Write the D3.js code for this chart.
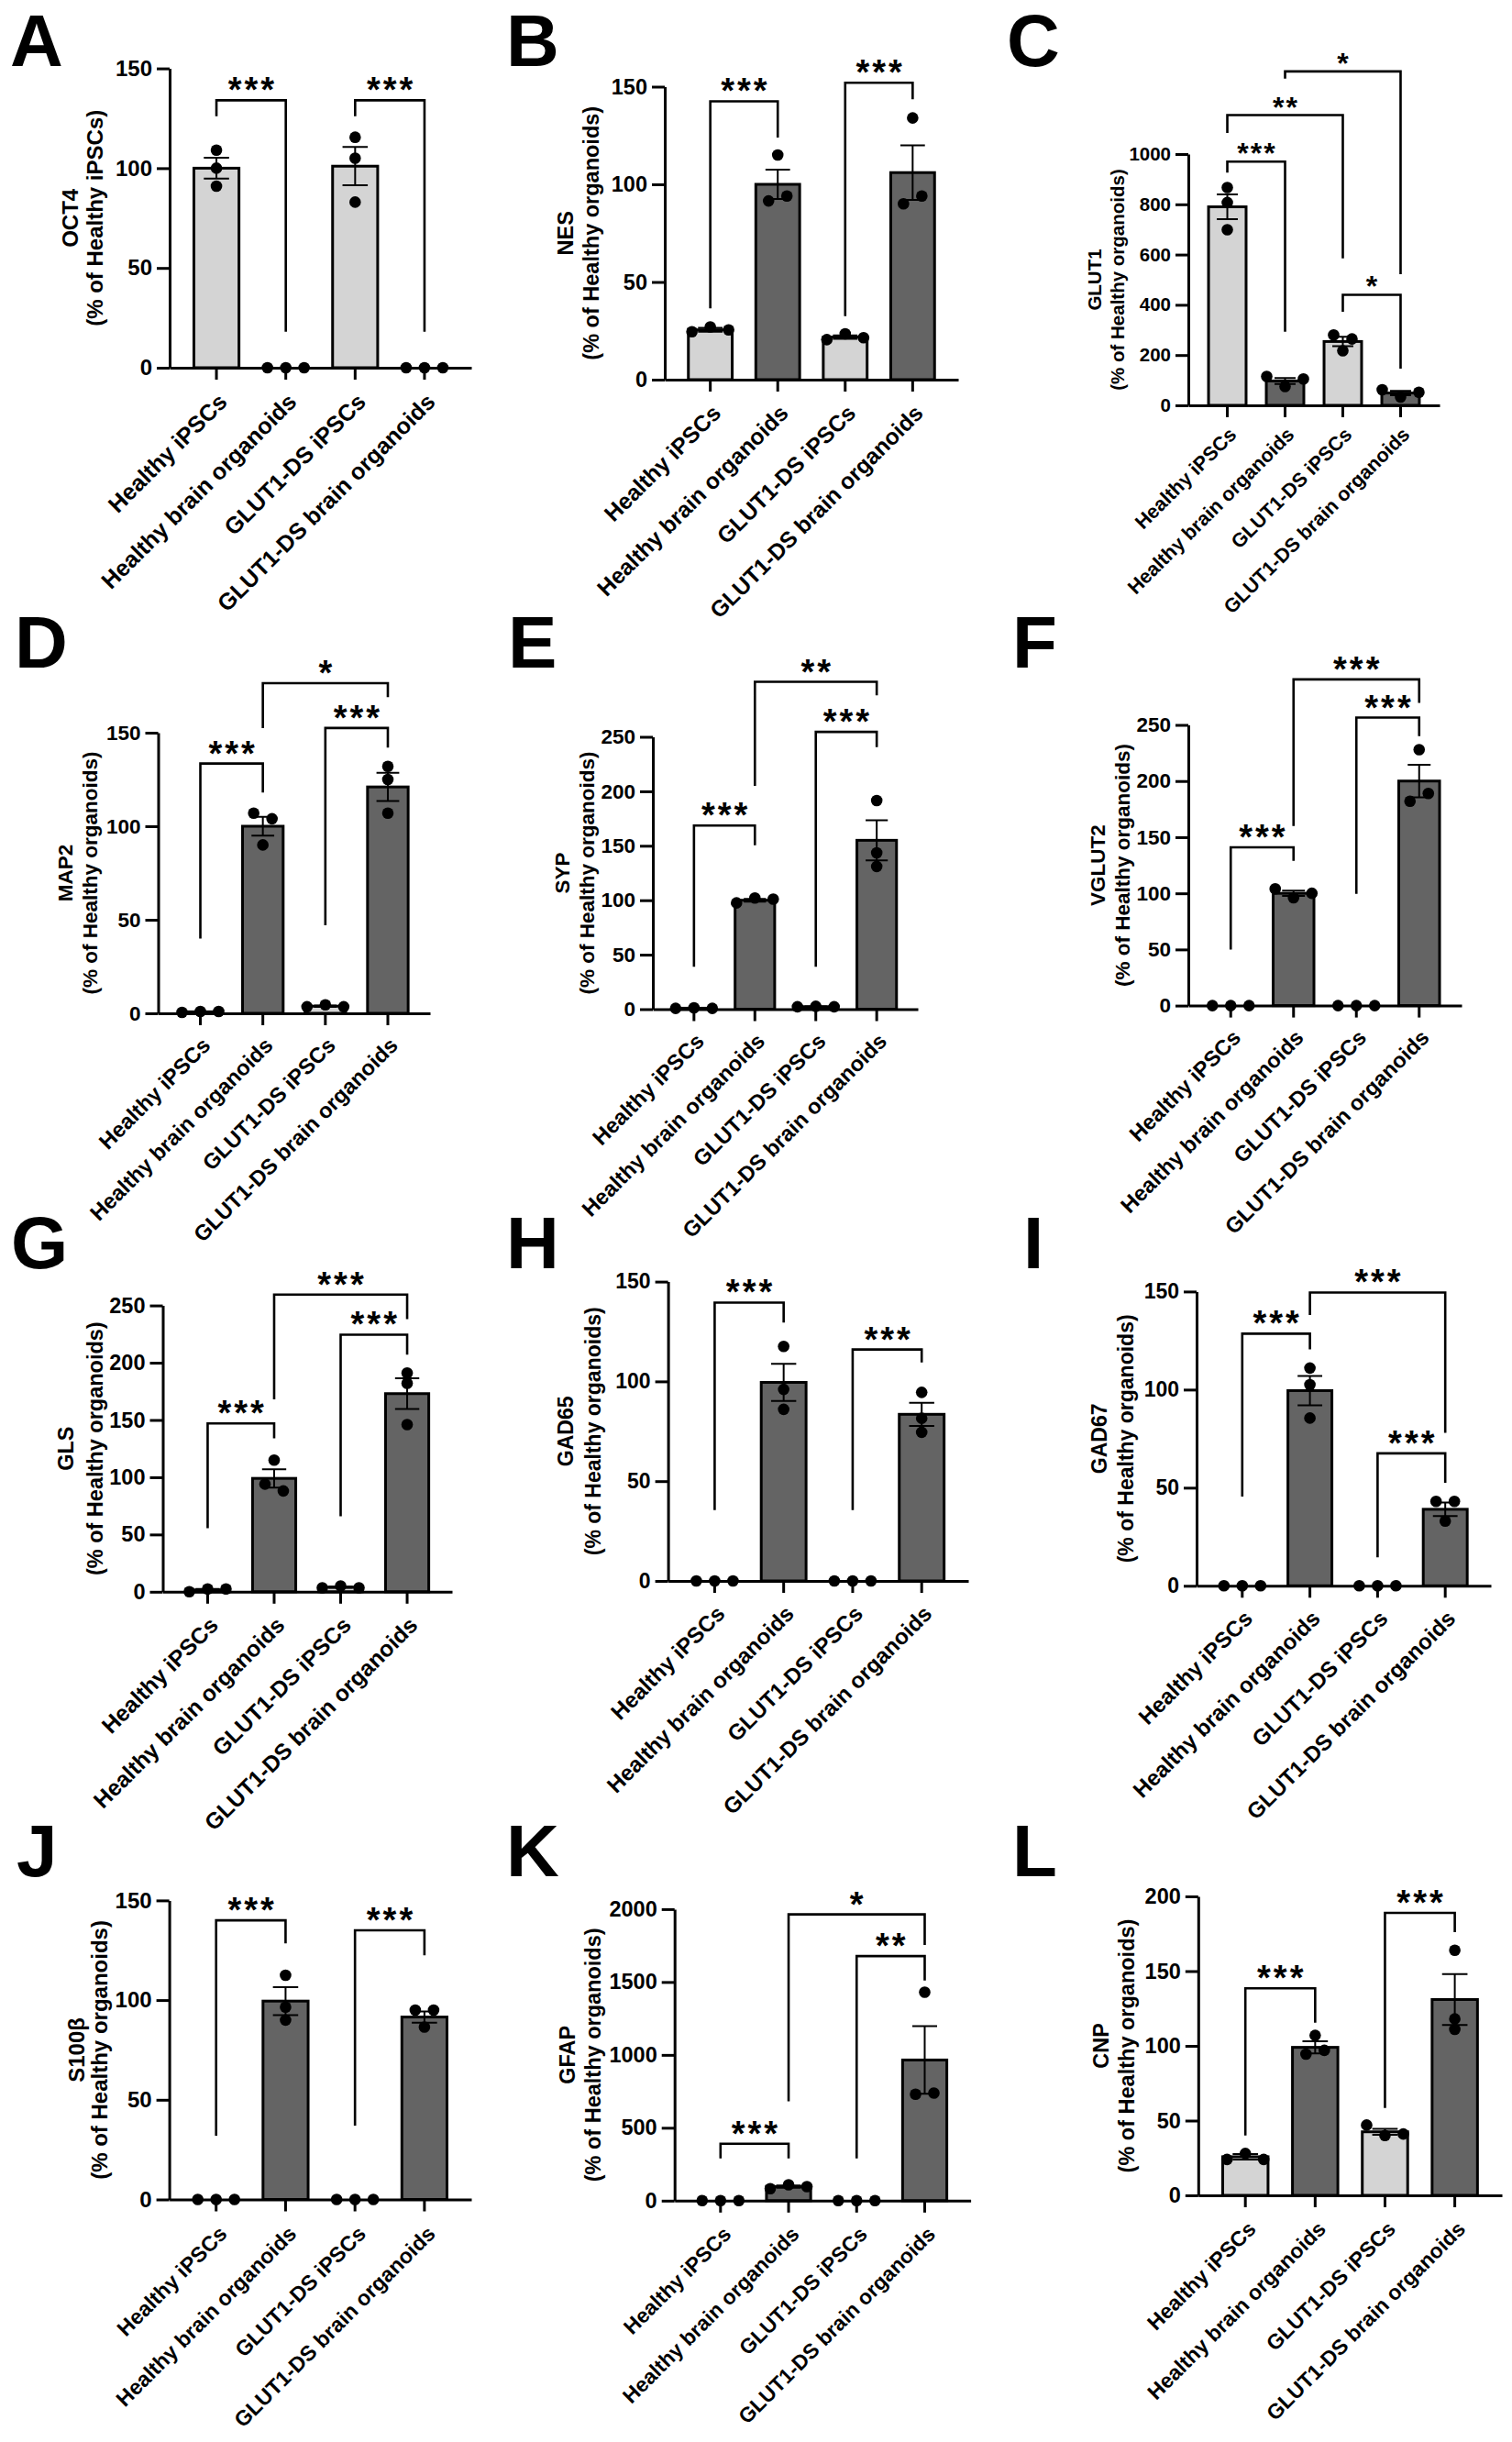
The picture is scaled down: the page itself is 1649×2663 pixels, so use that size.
<!DOCTYPE html>
<html>
<head>
<meta charset="utf-8">
<script src="https://cdn.jsdelivr.net/npm/d3@7"></script>
<style>
  body { margin: 0; background: #fff; }
  text { font-family: "Liberation Sans", Arial, sans-serif; font-weight: bold; fill: #000; }
</style>
</head>
<body>
<div id="fig"></div>
<script>
// groups on every x axis
const groups = ["Healthy iPSCs", "Healthy brain organoids", "GLUT1-DS iPSCs", "GLUT1-DS brain organoids"];

// values: mean, SEM, the three replicates, and
// significance brackets [from, to, level, left leg end, right leg end, label]
const oct4Mean = [100, 0, 101, 0];
const oct4Sem = [5.2, 0, 9.6, 0];
const oct4Points = [[109, 100, 91], [0, 0, 0], [115.5, 105, 83], [0, 0, 0]];
const oct4Sig = [[0, 1, 134, 126, 18, "***"], [2, 3, 134, 126, 18, "***"]];

const nesMean = [25.5, 100, 21.8, 106];
const nesSem = [1, 7.5, 0.9, 14];
const nesPoints = [[24.5, 27, 25.5], [115, 91.5, 94], [20.5, 23.5, 21.5], [134, 90, 94]];
const nesSig = [[0, 1, 142.5, 36.5, 124, "***"], [2, 3, 152, 32.5, 143.5, "***"]];

const glut1Mean = [790, 97, 254, 49];
const glut1Sem = [49, 12, 19, 8.5];
const glut1Points = [[867, 807, 699], [115, 75, 105], [280, 217, 264], [62, 33, 52]];
const glut1Sig = [[0, 1, 970, 926, 293, "***"], [0, 2, 1155, 1084, 585, "**"], [1, 3, 1329, 1300, 522, "*"], [2, 3, 440, 372, 146, "*"]];

const map2Mean = [0.8, 100, 3.8, 121];
const map2Sem = [0.2, 5, 0.4, 7.5];
const map2Points = [[0.5, 1, 1], [107, 104, 90], [3.5, 4.5, 3.5], [132, 125, 107]];
const map2Sig = [[0, 1, 133.5, 40, 118, "***"], [2, 3, 152.5, 47, 142, "***"], [1, 3, 176.5, 152.5, 169, "*"]];

const sypMean = [0.9, 100, 2.3, 155];
const sypSem = [0.2, 1.3, 0.2, 18.5];
const sypPoints = [[0.7, 1.2, 0.7], [97.5, 102, 101], [2.2, 2.6, 2.2], [191.5, 143.5, 131]];
const sypSig = [[0, 1, 168.5, 39, 150.5, "***"], [2, 3, 254.5, 39, 240.5, "***"], [1, 3, 300.5, 205, 288, "**"]];

const vglut2Mean = [0, 100, 0, 200];
const vglut2Sem = [0, 2.4, 0, 14.5];
const vglut2Points = [[0, 0, 0], [104, 96, 100], [0, 0, 0], [228, 182, 189]];
const vglut2Sig = [[0, 1, 141, 50, 129, "***"], [2, 3, 256.5, 99.5, 240, "***"], [1, 3, 290.5, 160, 269.5, "***"]];

const glsMean = [1.6, 99, 4, 173];
const glsSem = [0.8, 8, 0.5, 13.5];
const glsPoints = [[0, 2.4, 2.4], [115, 94, 88], [3.5, 5, 3.5], [191, 182, 146]];
const glsSig = [[0, 1, 147, 55.5, 134, "***"], [2, 3, 224.5, 66, 207, "***"], [1, 3, 259.5, 168, 238, "***"]];

const gad65Mean = [0, 99.5, 0, 83.5];
const gad65Sem = [0, 9.3, 0, 5.8];
const gad65Points = [[0, 0, 0], [117.5, 96, 86], [0, 0, 0], [94.5, 81.5, 74.5]];
const gad65Sig = [[0, 1, 139.5, 35.5, 129.5, "***"], [2, 3, 116, 35.5, 109.5, "***"]];

const gad67Mean = [0, 99.5, 0, 39];
const gad67Sem = [0, 7.5, 0, 3.5];
const gad67Points = [[0, 0, 0], [111, 102.5, 85.5], [0, 0, 0], [43, 33, 43]];
const gad67Sig = [[0, 1, 128.5, 45.5, 120.5, "***"], [2, 3, 67.5, 14.5, 52.5, "***"], [1, 3, 149.5, 138, 78, "***"]];

const s100bMean = [0, 99.5, 0, 91.5];
const s100bSem = [0, 7, 0, 2.8];
const s100bPoints = [[0, 0, 0], [112.5, 96.5, 90], [0, 0, 0], [95, 86.5, 95]];
const s100bSig = [[0, 1, 140, 32, 128.5, "***"], [2, 3, 135, 37, 122.5, "***"]];

const gfapMean = [0, 96, 0, 965];
const gfapSem = [0, 8, 0, 232];
const gfapPoints = [[0, 0, 0], [82, 109, 96], [0, 0, 0], [1430, 730, 738]];
const gfapSig = [[0, 1, 390, 289, 289, "***"], [2, 3, 1678, 289, 1510, "**"], [1, 3, 1964, 682, 1754, "*"]];

const cnpMean = [25.8, 99, 42.5, 131];
const cnpSem = [1.8, 4, 2, 17];
const cnpPoints = [[24, 28, 24], [107, 94.5, 97], [47, 40, 41], [164, 118, 111]];
const cnpSig = [[0, 1, 138.5, 40, 115.5, "***"], [2, 3, 189, 58.5, 176, "***"]];

const organoidUnit = "(% of Healthy organoids)";

const panels = [
  { letter: "A", gene: "OCT4", unit: "(% of Healthy iPSCs)", max: 150, step: 50, mean: oct4Mean, sem: oct4Sem, pts: oct4Points, sig: oct4Sig },
  { letter: "B", gene: "NES", unit: organoidUnit, max: 150, step: 50, mean: nesMean, sem: nesSem, pts: nesPoints, sig: nesSig },
  { letter: "C", gene: "GLUT1", unit: organoidUnit, max: 1000, step: 200, mean: glut1Mean, sem: glut1Sem, pts: glut1Points, sig: glut1Sig },
  { letter: "D", gene: "MAP2", unit: organoidUnit, max: 150, step: 50, mean: map2Mean, sem: map2Sem, pts: map2Points, sig: map2Sig },
  { letter: "E", gene: "SYP", unit: organoidUnit, max: 250, step: 50, mean: sypMean, sem: sypSem, pts: sypPoints, sig: sypSig },
  { letter: "F", gene: "VGLUT2", unit: organoidUnit, max: 250, step: 50, mean: vglut2Mean, sem: vglut2Sem, pts: vglut2Points, sig: vglut2Sig },
  { letter: "G", gene: "GLS", unit: organoidUnit, max: 250, step: 50, mean: glsMean, sem: glsSem, pts: glsPoints, sig: glsSig },
  { letter: "H", gene: "GAD65", unit: organoidUnit, max: 150, step: 50, mean: gad65Mean, sem: gad65Sem, pts: gad65Points, sig: gad65Sig },
  { letter: "I", gene: "GAD67", unit: organoidUnit, max: 150, step: 50, mean: gad67Mean, sem: gad67Sem, pts: gad67Points, sig: gad67Sig },
  { letter: "J", gene: "S100\u03B2", unit: organoidUnit, max: 150, step: 50, mean: s100bMean, sem: s100bSem, pts: s100bPoints, sig: s100bSig },
  { letter: "K", gene: "GFAP", unit: organoidUnit, max: 2000, step: 500, mean: gfapMean, sem: gfapSem, pts: gfapPoints, sig: gfapSig },
  { letter: "L", gene: "CNP", unit: organoidUnit, max: 200, step: 50, mean: cnpMean, sem: cnpSem, pts: cnpPoints, sig: cnpSig }
];

// where each panel sits on the page (page pixels); lf scales the x labels
const frames = {
  A: { xL: 185, xR: 514, y0: 401, yT: 74.6, lx: 11, lb: 72, fs: 24, lf: 1.05, t1: 108, t2: 81 },
  B: { xL: 725, xR: 1045, y0: 414, yT: 94.5, lx: 552, lb: 72, fs: 23.5, lf: 1.05, t1: 108, t2: 80 },
  C: { xL: 1296, xR: 1570, y0: 442, yT: 168, lx: 1098, lb: 72, fs: 20.5, lf: 1.05, t1: 102, t2: 77 },
  D: { xL: 172.5, xR: 469, y0: 1105, yT: 799, lx: 16, lb: 728, fs: 22.5, lf: 1.05, t1: 101, t2: 74 },
  E: { xL: 712, xR: 1001, y0: 1100.5, yT: 803.5, lx: 554, lb: 728, fs: 22.5, lf: 1.05, t1: 99, t2: 72 },
  F: { xL: 1296, xR: 1594, y0: 1096.6, yT: 790.5, lx: 1104, lb: 728, fs: 22.5, lf: 1.05, t1: 99, t2: 72 },
  G: { xL: 177.5, xR: 493, y0: 1735.8, yT: 1423.6, lx: 12, lb: 1383, fs: 23.5, lf: 1.05, t1: 106, t2: 74 },
  H: { xL: 728.6, xR: 1056, y0: 1724, yT: 1397.6, lx: 552, lb: 1383, fs: 23, lf: 1.05, t1: 112, t2: 82 },
  I: { xL: 1305, xR: 1626, y0: 1729.3, yT: 1408.4, lx: 1116, lb: 1383, fs: 23, lf: 1.05, t1: 106, t2: 77 },
  J: { xL: 184.6, xR: 514, y0: 2398.5, yT: 2072.4, lx: 18, lb: 2046, fs: 24, lf: 0.97, t1: 101, t2: 76 },
  K: { xL: 735.7, xR: 1058.6, y0: 2399.8, yT: 2081.9, lx: 552, lb: 2046, fs: 23.5, lf: 0.97, t1: 117, t2: 89 },
  L: { xL: 1306.8, xR: 1638, y0: 2394, yT: 2068, lx: 1104, lb: 2046, fs: 23.5, lf: 0.98, t1: 106, t2: 78 }
};

const width = 1649;
const height = 2663;
const lightFill = "#d4d4d4";
const darkFill = "#646464";

const svg = d3.select("#fig").append("svg")
  .attr("width", width)
  .attr("height", height);

svg.append("rect").attr("width", width).attr("height", height).attr("fill", "#fff");

const root = svg.append("g");

panels.forEach(p => drawPanel(p, frames[p.letter]));

// Prism style scatter: points that would overlap are spread in a row
function dotOffsets(vals, y, spacing) {
  const idx = vals.map((v, i) => i).sort((a, b) => vals[b] - vals[a]);
  const clusters = [];
  let cur = [idx[0]];
  for (let k = 1; k < idx.length; k++) {
    if (Math.abs(y(vals[idx[k - 1]]) - y(vals[idx[k]])) < 11) cur.push(idx[k]);
    else { clusters.push(cur); cur = [idx[k]]; }
  }
  clusters.push(cur);
  const off = vals.map(() => 0);
  clusters.forEach(c => {
    c.sort((a, b) => a - b);
    c.forEach((i, k) => { off[i] = (k - (c.length - 1) / 2) * spacing; });
  });
  return off;
}

function drawPanel(p, f) {
  const g = root.append("g").attr("class", "panel");
  const fs = f.fs;
  const labelFs = fs * f.lf;

  const x = d3.scaleBand()
    .domain(groups)
    .range([f.xL, f.xR])
    .padding(0.35);

  const y = d3.scaleLinear()
    .domain([0, p.max])
    .range([f.y0, f.yT]);

  // panel letter
  g.append("text")
    .attr("x", f.lx)
    .attr("y", f.lb)
    .style("font-size", "80px")
    .text(p.letter);

  // y axis
  const yAxis = g.append("g")
    .attr("transform", `translate(${f.xL},0)`)
    .call(d3.axisLeft(y)
      .tickValues(d3.range(0, p.max + 1, p.step))
      .tickSizeInner(14)
      .tickSizeOuter(0)
      .tickPadding(5)
      .tickFormat(d3.format("d")));
  yAxis.select(".domain").attr("stroke", "#000").attr("stroke-width", 3);
  yAxis.selectAll(".tick line").attr("stroke", "#000").attr("stroke-width", 3);
  yAxis.selectAll(".tick text")
    .attr("fill", "#000")
    .style("font-size", fs + "px")
    .style("font-family", '"Liberation Sans", Arial, sans-serif')
    .style("font-weight", "bold");

  // y title
  const cy = (f.y0 + f.yT) / 2;
  g.append("text")
    .attr("transform", `translate(${f.xL - f.t1},${cy}) rotate(-90)`)
    .attr("text-anchor", "middle")
    .attr("dy", "0.35em")
    .style("font-size", fs + "px")
    .text(p.gene);
  g.append("text")
    .attr("transform", `translate(${f.xL - f.t2},${cy}) rotate(-90)`)
    .attr("text-anchor", "middle")
    .attr("dy", "0.35em")
    .style("font-size", fs + "px")
    .text(p.unit);

  // bars
  g.selectAll(".bar")
    .data(groups)
    .join("rect")
    .attr("class", "bar")
    .attr("x", d => x(d))
    .attr("width", x.bandwidth())
    .attr("y", (d, i) => y(p.mean[i]))
    .attr("height", (d, i) => f.y0 - y(p.mean[i]))
    .attr("fill", (d, i) => i % 2 === 0 ? lightFill : darkFill)
    .attr("stroke", "#000")
    .attr("stroke-width", 3);

  // x axis
  const xAxis = g.append("g")
    .attr("transform", `translate(0,${f.y0})`)
    .call(d3.axisBottom(x).tickSizeInner(13).tickSizeOuter(0));
  xAxis.select(".domain").attr("stroke", "#000").attr("stroke-width", 3);
  xAxis.selectAll(".tick line").attr("stroke", "#000").attr("stroke-width", 3);
  xAxis.selectAll(".tick text")
    .attr("x", 0)
    .attr("y", 0)
    .attr("dy", null)
    .attr("transform", `translate(${fs * 0.55},${fs * 1.62}) rotate(-45)`)
    .attr("text-anchor", "end")
    .attr("fill", "#000")
    .style("font-size", labelFs + "px")
    .style("font-family", '"Liberation Sans", Arial, sans-serif')
    .style("font-weight", "bold");

  // error bars (mean +/- SEM)
  const cap = x.bandwidth() * 0.28;
  groups.forEach((grp, i) => {
    if (!p.sem[i]) return;
    const cx = x(grp) + x.bandwidth() / 2;
    const top = y(p.mean[i] + p.sem[i]);
    const bot = y(p.mean[i] - p.sem[i]);
    g.append("path")
      .attr("d", `M${cx},${top}V${bot}M${cx - cap},${top}H${cx + cap}M${cx - cap},${bot}H${cx + cap}`)
      .attr("fill", "none")
      .attr("stroke", "#000")
      .attr("stroke-width", 2);
  });

  // replicate points
  groups.forEach((grp, i) => {
    const cx = x(grp) + x.bandwidth() / 2;
    const off = dotOffsets(p.pts[i], y, 20);
    g.selectAll(null)
      .data(p.pts[i])
      .join("circle")
      .attr("cx", (d, k) => cx + off[k])
      .attr("cy", d => y(d))
      .attr("r", 6.3)
      .attr("fill", "#000");
  });

  // significance brackets
  const small = fs < 21;
  p.sig.forEach(([a, b, level, endA, endB, label]) => {
    const xa = x(groups[a]) + x.bandwidth() / 2;
    const xb = x(groups[b]) + x.bandwidth() / 2;
    g.append("path")
      .attr("d", `M${xa},${y(endA)}V${y(level)}H${xb}V${y(endB)}`)
      .attr("fill", "none")
      .attr("stroke", "#000")
      .attr("stroke-width", 2.6);
    g.append("text")
      .attr("x", (xa + xb) / 2 + (small ? 1 : 1.5))
      .attr("y", y(level) + 2)
      .attr("text-anchor", "middle")
      .style("font-size", (small ? 32 : 38) + "px")
      .style("letter-spacing", (small ? 2 : 3) + "px")
      .text(label);
  });
}
</script>
</body>
</html>
